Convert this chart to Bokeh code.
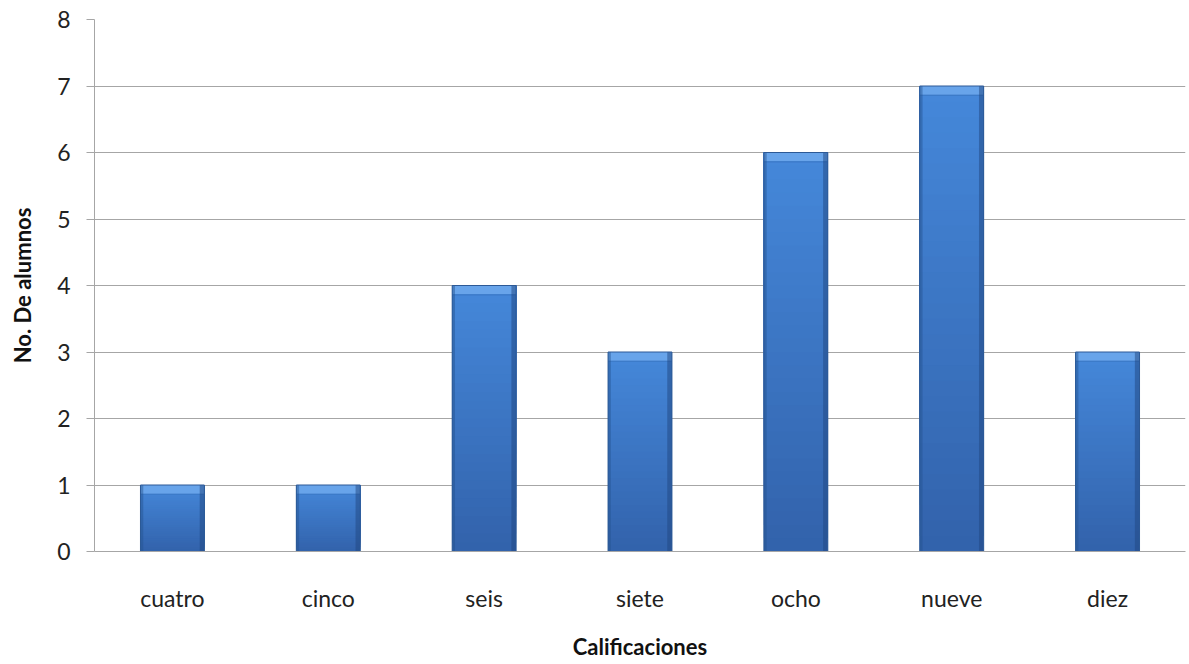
from bokeh.plotting import figure
from bokeh.models import ColumnDataSource, FactorRange, Range1d, FixedTicker
from bokeh.transform import dodge
from bokeh.embed import file_html
from bokeh.resources import INLINE

categories = ["cuatro", "cinco", "seis", "siete", "ocho", "nueve", "diez"]
values = [1, 1, 4, 3, 6, 7, 3]
y_ticks = [0, 1, 2, 3, 4, 5, 6, 7, 8]
x_title = "Calificaciones"
y_title = "No. De alumnos"

FONT = "Lato"
GRID = "#a6a6a6"

p = figure(x_range=FactorRange(*categories, range_padding=0),
           y_range=Range1d(0, 8),
           width=1189, height=664,
           output_backend="svg", toolbar_location=None,
           min_border_left=94, min_border_top=19, min_border_bottom=113,
           min_border_right=4)
p.outline_line_color = None
p.background_fill_color = "white"
p.border_fill_color = "white"

# gradient body of bars: overlapping layers computed from each value
N = 30
def lerp(c1, c2, t):
    a = [int(c1[i:i + 2], 16) for i in (1, 3, 5)]
    b = [int(c2[i:i + 2], 16) for i in (1, 3, 5)]
    return "#%02x%02x%02x" % tuple(int(round(a[k] + (b[k] - a[k]) * t)) for k in range(3))

xs, bots, tops, cols = [], [], [], []
for i in range(N):
    for c, v in zip(categories, values):
        xs.append(c)
        bots.append(v * i / N)
        tops.append(v)
        cols.append(lerp("#3262ab", "#4588da", (i + 0.5) / N))
p.vbar(x=xs, bottom=bots, top=tops, width=0.41, fill_color=cols, line_color=None)

src = ColumnDataSource(dict(x=categories, top=values,
                            bevel=[v - 0.14 for v in values]))
# top bevel highlight
p.vbar(x="x", bottom="bevel", top="top", width=0.41, source=src,
       fill_color="#68a4ea", line_color=None)
p.vbar(x="x", bottom="bevel", top="bevel", width=0.41, source=src,
       fill_color=None, line_color="#3d7bc9", line_width=1)
# side shading
p.vbar(x=dodge("x", -0.196, range=p.x_range), bottom=0, top="top", width=0.018,
       source=src, fill_color="#24518f", fill_alpha=0.45, line_color=None)
p.vbar(x=dodge("x", 0.19, range=p.x_range), bottom=0, top="top", width=0.03,
       source=src, fill_color="#1f4680", fill_alpha=0.5, line_color=None)
# outline
p.vbar(x="x", bottom=0, top="top", width=0.41, source=src,
       fill_color=None, line_color="#2c5996", line_width=1)

p.xgrid.grid_line_color = None
p.ygrid.grid_line_color = GRID
p.ygrid.grid_line_width = 1
p.ygrid.level = "underlay"

p.yaxis.ticker = FixedTicker(ticks=y_ticks)
p.yaxis.axis_line_color = GRID
p.yaxis.major_tick_line_color = GRID
p.yaxis.major_tick_out = 8
p.yaxis.major_tick_in = 0
p.yaxis.minor_tick_line_color = None
p.yaxis.major_label_text_font = FONT
p.yaxis.major_label_text_font_size = "23px"
p.yaxis.major_label_text_color = "#222222"
p.yaxis.major_label_standoff = 16
p.yaxis.axis_label = y_title
p.yaxis.axis_label_text_font = FONT
p.yaxis.axis_label_text_font_style = "bold"
p.yaxis.axis_label_text_font_size = "22px"
p.yaxis.axis_label_text_color = "#111111"
p.yaxis.axis_label_standoff = 18

p.xaxis.axis_line_color = GRID
p.xaxis.major_tick_line_color = None
p.xaxis.major_tick_out = 0
p.xaxis.minor_tick_line_color = None
p.xaxis.major_label_text_font = FONT
p.xaxis.major_label_text_font_size = "23px"
p.xaxis.major_label_text_color = "#222222"
p.xaxis.major_label_standoff = 32
p.xaxis.axis_label = x_title
p.xaxis.axis_label_text_font = FONT
p.xaxis.axis_label_text_font_style = "bold"
p.xaxis.axis_label_text_font_size = "22px"
p.xaxis.axis_label_text_color = "#111111"
p.xaxis.axis_label_standoff = 18

open("out.html", "w").write(file_html(p, INLINE))
